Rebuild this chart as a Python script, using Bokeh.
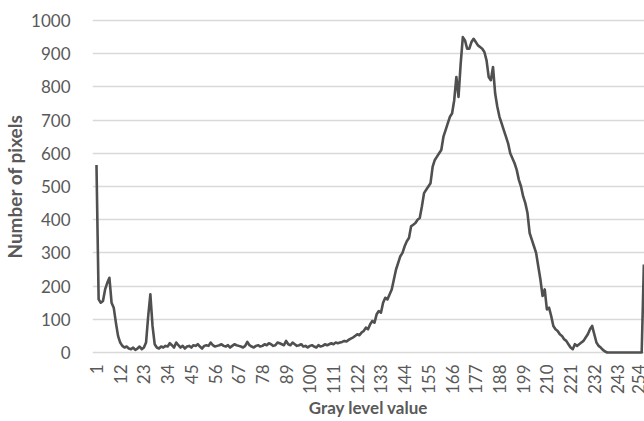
from bokeh.plotting import figure
from bokeh.models import Range1d, FixedTicker, ColumnDataSource
from bokeh.embed import file_html
from bokeh.resources import INLINE

# Gray levels 1..255 (category axis)
gray_levels = list(range(1, 256))

counts_001_030 = [565, 160, 150, 155, 190, 210, 225, 150, 135, 90,
                  50, 30, 20, 15, 18, 12, 10, 15, 8, 12,
                  18, 10, 15, 30, 110, 175, 80, 25, 15, 12]
counts_031_060 = [18, 15, 20, 18, 28, 22, 15, 30, 22, 15,
                  20, 12, 18, 20, 15, 22, 20, 25, 18, 12,
                  20, 22, 20, 30, 22, 18, 20, 22, 25, 20]
counts_061_090 = [18, 22, 15, 20, 25, 22, 20, 18, 15, 20,
                  32, 22, 18, 15, 20, 22, 18, 20, 25, 22,
                  28, 25, 20, 22, 30, 28, 25, 22, 35, 25]
counts_091_120 = [22, 30, 25, 20, 22, 25, 18, 20, 15, 20,
                  22, 18, 15, 22, 18, 20, 25, 22, 25, 28,
                  25, 30, 28, 30, 32, 35, 33, 38, 42, 45]
counts_121_150 = [50, 55, 52, 60, 65, 75, 70, 85, 95, 90,
                  115, 125, 120, 150, 165, 160, 175, 190, 220, 250,
                  270, 290, 300, 320, 335, 345, 380, 385, 390, 400]
counts_151_180 = [405, 440, 480, 490, 500, 510, 560, 580, 590, 600,
                  610, 650, 670, 690, 710, 720, 760, 830, 770, 870,
                  950, 940, 915, 915, 935, 945, 935, 925, 920, 915]
counts_181_210 = [905, 880, 830, 820, 860, 780, 740, 710, 690, 670,
                  650, 630, 600, 585, 570, 550, 520, 500, 470, 450,
                  420, 360, 340, 320, 300, 260, 220, 170, 190, 130]
counts_211_240 = [135, 110, 80, 70, 65, 55, 50, 40, 35, 25,
                  15, 10, 25, 20, 25, 30, 35, 45, 55, 70,
                  80, 55, 30, 20, 15, 8, 3, 0, 0, 0]
counts_241_255 = [0, 0, 0, 0, 0, 0, 0, 0, 0, 0,
                  0, 0, 0, 0, 265]

pixel_counts = (counts_001_030 + counts_031_060 + counts_061_090 +
                counts_091_120 + counts_121_150 + counts_151_180 +
                counts_181_210 + counts_211_240 + counts_241_255)

x_ticks = [1, 12, 23, 34, 45, 56, 67, 78, 89, 100, 111, 122,
           133, 144, 155, 166, 177, 188, 199, 210, 221, 232, 243, 254]
y_ticks = [0, 100, 200, 300, 400, 500, 600, 700, 800, 900, 1000]

x_title = "Gray level value"
y_title = "Number of pixels"

FONT = "Lato"
TXT = "#595959"

source = ColumnDataSource(data=dict(g=gray_levels, n=pixel_counts))

p = figure(width=644, height=421,
           min_border_left=92, min_border_right=0,
           min_border_top=18, min_border_bottom=66,
           x_range=Range1d(-0.85, 255.3), y_range=Range1d(-6, 1006),
           output_backend="svg", toolbar_location=None,
           background_fill_color="white", border_fill_color="white")
p.outline_line_color = None

p.line("g", "n", source=source, line_color="#505050", line_width=2.6,
       line_join="round")

p.xgrid.grid_line_color = None
p.ygrid.grid_line_color = "#d9d9d9"
p.ygrid.grid_line_width = 1.3
p.ygrid.ticker = FixedTicker(ticks=y_ticks)

p.xaxis.ticker = FixedTicker(ticks=x_ticks)
p.yaxis.ticker = FixedTicker(ticks=y_ticks)
for ax in (p.xaxis, p.yaxis):
    ax.axis_line_color = None
    ax.major_tick_line_color = None
    ax.minor_tick_line_color = None
    ax.major_label_text_font = FONT
    ax.major_label_text_font_size = "17px"
    ax.major_label_text_color = TXT
    ax.axis_label_text_font = FONT
    ax.axis_label_text_font_style = "bold"
    ax.axis_label_text_color = TXT

p.xaxis.axis_label = x_title
p.xaxis.axis_label_text_font_size = "17px"
p.xaxis.major_label_orientation = 1.5707963
p.xaxis.major_label_standoff = 4
p.xaxis.axis_label_standoff = 0

p.yaxis.axis_label = y_title
p.yaxis.axis_label_text_font_size = "19px"
p.yaxis.major_label_standoff = 16
p.yaxis.axis_label_standoff = 2

open("out.html", "w").write(file_html(p, INLINE))
